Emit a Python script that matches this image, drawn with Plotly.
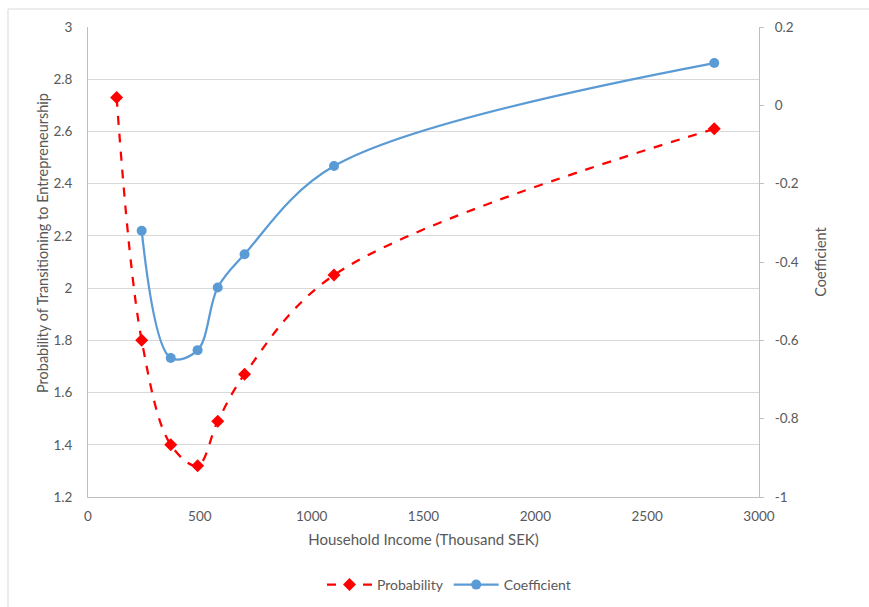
import plotly.graph_objects as go

# Data
prob_income = [128, 240, 370, 490, 580, 700, 1100, 2800]
probability = [2.73, 1.80, 1.40, 1.32, 1.49, 1.67, 2.05, 2.61]

coef_income = [240, 370, 490, 580, 700, 1100, 2800]
coefficient = [-0.32, -0.645, -0.625, -0.465, -0.38, -0.155, 0.108]

left_ticks = [1.2, 1.4, 1.6, 1.8, 2.0, 2.2, 2.4, 2.6, 2.8, 3.0]
left_labels = ["1.2", "1.4", "1.6", "1.8", "2", "2.2", "2.4", "2.6", "2.8", "3"]
right_ticks = [-1.0, -0.8, -0.6, -0.4, -0.2, 0.0, 0.2]
right_labels = ["-1", "-0.8", "-0.6", "-0.4", "-0.2", "0", "0.2"]
x_ticks = [0, 500, 1000, 1500, 2000, 2500, 3000]

FONT = "Lato, 'Open Sans', sans-serif"
TXT = "#595959"
GRID = "#d9d9d9"
AXL = "#bfbfbf"

fig = go.Figure()
fig.add_trace(go.Scatter(
    x=prob_income, y=probability, name="Probability", mode="lines+markers",
    line=dict(color="#FF0000", width=2.25, dash="dash", shape="spline", smoothing=1),
    marker=dict(symbol="diamond", size=10, color="#FF0000"),
    yaxis="y",
))
fig.add_trace(go.Scatter(
    x=coef_income, y=coefficient, name="Coefficient", mode="lines+markers",
    line=dict(color="#5B9BD5", width=2.25, shape="spline", smoothing=1),
    marker=dict(symbol="circle", size=10, color="#5B9BD5"),
    yaxis="y2",
))

L, R, T, B = 88, 110, 27, 110
W, H = 869, 607
pw, ph = W - L - R, H - T - B

fig.update_layout(
    width=W, height=H,
    margin=dict(l=L, r=R, t=T, b=B, autoexpand=False),
    paper_bgcolor="white", plot_bgcolor="white",
    font=dict(family=FONT, size=13, color=TXT),
    xaxis=dict(
        range=[0, 3000], tickvals=x_ticks, showgrid=False, zeroline=False,
        showline=True, linecolor=AXL, linewidth=1, ticks="",
        ticklabelstandoff=7, tickfont=dict(size=13.5),
        title=dict(text="Household Income (Thousand SEK)", font=dict(size=15, color=TXT), standoff=11),
        automargin=False,
    ),
    yaxis=dict(
        range=[1.2, 3.0], tickvals=left_ticks, ticktext=left_labels,
        showgrid=True, gridcolor=GRID, gridwidth=1, zeroline=False,
        showline=True, linecolor=AXL, linewidth=1, ticks="",
        ticklabelstandoff=12, tickfont=dict(size=13.5),
        automargin=False,
    ),
    yaxis2=dict(
        range=[-1.0, 0.2], tickvals=right_ticks, ticktext=right_labels,
        overlaying="y", side="right", showgrid=False, zeroline=False,
        showline=True, linecolor=AXL, linewidth=1,
        ticks="outside", ticklen=4, tickcolor=AXL, ticklabelstandoff=8,
        tickfont=dict(size=13.5),
        title=dict(text="Coefficient", font=dict(size=14.5, color=TXT), standoff=18),
        automargin=False,
    ),
    legend=dict(
        orientation="h", x=(449 - L) / pw, xanchor="center", y=(497 - 585) / ph, yanchor="middle",
        font=dict(size=14, color=TXT), bgcolor="rgba(0,0,0,0)", itemwidth=45,
    ),
    annotations=[dict(
        text="Probability of Transitioning to Entrepreneurship",
        xref="paper", yref="paper", x=(42 - L) / pw, y=(T + ph - 243) / ph,
        xanchor="center", yanchor="middle", textangle=-90, showarrow=False,
        font=dict(size=14.5, color=TXT),
    )],
    shapes=[dict(
        type="rect", xref="paper", yref="paper",
        x0=(8 - L) / pw, x1=(W + 20 - L) / pw,
        y0=(T + ph - (H + 20)) / ph, y1=(T + ph - 9) / ph,
        line=dict(color=GRID, width=1), fillcolor="rgba(0,0,0,0)", layer="below",
    )],
)

fig.write_html("out.html")
